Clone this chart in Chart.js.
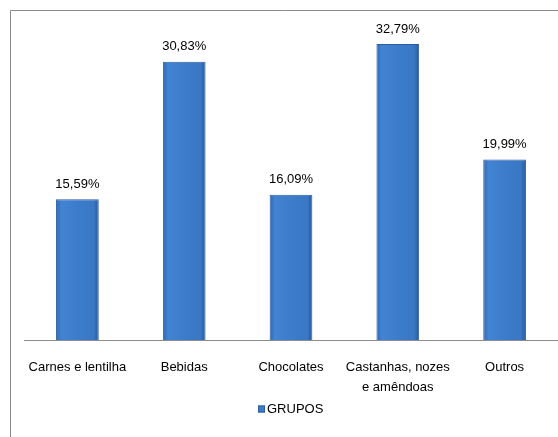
<!DOCTYPE html>
<html>
<head>
<meta charset="utf-8">
<script src="https://cdn.jsdelivr.net/npm/chart.js@4"></script>
<style>
  html, body { margin: 0; padding: 0; background: #fff; }
  #wrap { width: 558px; height: 437px; position: relative; }
</style>
</head>
<body>
<div id="wrap"><canvas id="grupos_chart" width="558" height="437"></canvas></div>
<script>
var categorias = ['Carnes e lentilha', 'Bebidas', 'Chocolates', ['Castanhas, nozes', 'e amêndoas'], 'Outros'];
var percentuais = [15.59, 30.83, 16.09, 32.79, 19.99];
var rotulos = ['15,59%', '30,83%', '16,09%', '32,79%', '19,99%'];
var serie = 'GRUPOS';

var fonte = '"Liberation Sans", Arial, sans-serif';

// moldura cinza (so lados esquerdo e superior aparecem)
var moldura = {
    id: 'moldura',
    beforeDraw: function (chart) {
        var c = chart.ctx;
        c.save();
        c.strokeStyle = '#8c8c8c';
        c.lineWidth = 1;
        c.beginPath();
        c.moveTo(10.5, 437);
        c.lineTo(10.5, 10.5);
        c.lineTo(558, 10.5);
        c.stroke();
        c.restore();
    }
};

// rotulos de valor sobre as barras + legenda
var rotulosValor = {
    id: 'rotulosValor',
    afterDatasetsDraw: function (chart) {
        var c = chart.ctx;
        var meta = chart.getDatasetMeta(0);
        c.save();
        c.font = '13px ' + fonte;
        c.fillStyle = '#000';
        c.textAlign = 'center';
        c.textBaseline = 'middle';
        meta.data.forEach(function (bar, i) {
            c.fillText(rotulos[i], bar.x, bar.y - 15);
        });

        // legenda
        var area = chart.chartArea;
        var tw = c.measureText(serie).width;
        var total = 7 + 2 + tw;
        var x0 = Math.round((area.left + area.right) / 2 - total / 2);
        var y = 409;
        c.fillStyle = '#3c7cca';
        c.fillRect(x0, y - 3.5, 7, 7);
        c.strokeStyle = '#2c5e9e';
        c.lineWidth = 1;
        c.strokeRect(x0 + 0.5, y - 3, 6, 6);
        c.fillStyle = '#000';
        c.textAlign = 'left';
        c.fillText(serie, x0 + 9, y);
        c.restore();
    }
};

function corBarra(context) {
    var chart = context.chart;
    var el = context.element;
    if (!el || !isFinite(el.x) || !isFinite(el.width) || el.width <= 0) return '#3c7cca';
    var w = el.width;
    var g = chart.ctx.createLinearGradient(el.x - w / 2, 0, el.x + w / 2, 0);
    g.addColorStop(0, '#2f66ad');
    g.addColorStop(0.12, '#4283d3');
    g.addColorStop(0.5, '#3c7cca');
    g.addColorStop(0.88, '#3a77c4');
    g.addColorStop(1, '#27589a');
    return g;
}

var ctx = document.getElementById('grupos_chart');
var grafico = new Chart(ctx, {
    type: 'bar',
    data: {
        labels: categorias,
        datasets: [{
            label: serie,
            data: percentuais,
            backgroundColor: corBarra,
            borderColor: '#2c5e9e',
            borderWidth: 1,
            categoryPercentage: 0.8,
            barPercentage: 0.5
        }]
    },
    options: {
        responsive: false,
        animation: false,
        layout: { padding: { left: 24, right: 0, top: 24, bottom: 22 } },
        scales: {
            x: {
                grid: { display: false, drawTicks: false },
                border: { display: true, color: '#8c8c8c' },
                ticks: { color: '#000', font: { family: fonte, size: 13, lineHeight: 1.5 }, padding: 18, maxRotation: 0, autoSkip: false }
            },
            y: {
                display: false,
                min: 0,
                max: 35
            }
        },
        plugins: {
            legend: { display: false },
            tooltip: { enabled: false }
        }
    },
    plugins: [moldura, rotulosValor]
});
grafico.update();
</script>
</body>
</html>
